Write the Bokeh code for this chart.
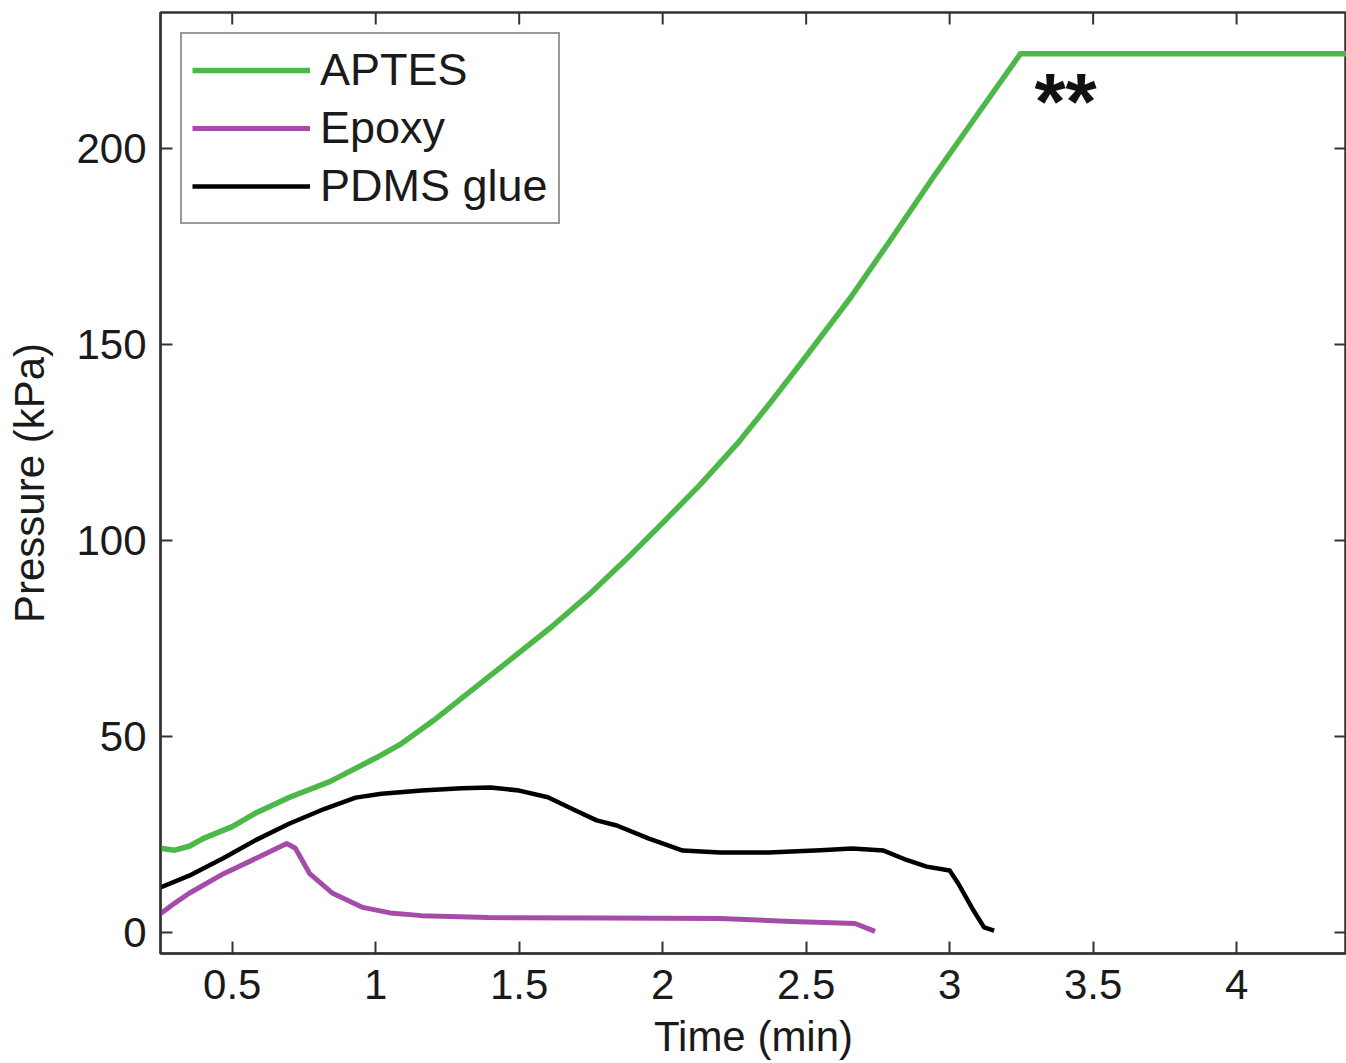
from bokeh.plotting import figure
from bokeh.models import (Range1d, Legend, LegendItem, Label,
                          NumeralTickFormatter, FixedTicker)
from bokeh.embed import file_html
from bokeh.resources import INLINE

# ---- data ----
aptes_t = [0.25, 0.30, 0.35, 0.40, 0.50, 0.58, 0.70, 0.84, 1.00, 1.09, 1.20,
           1.39, 1.61, 1.74, 1.87, 2.00, 2.13, 2.26, 2.38, 2.50, 2.655, 2.80,
           2.944, 3.10, 3.247, 4.40]
aptes_p = [21.5, 21.0, 22.0, 24.0, 27.0, 30.4, 34.5, 38.5, 44.5, 48.2, 54.0,
           65.0, 77.8, 86.0, 95.0, 104.5, 114.2, 124.7, 135.6, 147.0, 162.0, 177.3,
           192.8, 209.0, 224.2, 224.2]

epoxy_t = [0.25, 0.30, 0.35, 0.47, 0.60, 0.69, 0.72, 0.77, 0.85, 0.955, 1.05,
           1.16, 1.39, 1.80, 2.20, 2.45, 2.67, 2.74]
epoxy_p = [4.8, 7.5, 10.0, 15.0, 19.5, 22.7, 21.5, 15.0, 10.0, 6.4, 5.0,
           4.3, 3.8, 3.7, 3.6, 2.8, 2.3, 0.3]

pdms_t = [0.25, 0.35, 0.47, 0.58, 0.70, 0.82, 0.93, 1.02, 1.16, 1.30, 1.40,
          1.50, 1.60, 1.70, 1.77, 1.84, 1.95, 2.07, 2.20, 2.37, 2.55, 2.66,
          2.77, 2.85, 2.92, 3.00, 3.03, 3.08, 3.12, 3.155]
pdms_p = [11.5, 14.5, 19.0, 23.5, 27.8, 31.5, 34.4, 35.4, 36.2, 36.8, 37.0,
          36.2, 34.5, 31.0, 28.6, 27.3, 24.0, 20.9, 20.4, 20.4, 21.0, 21.4,
          20.9, 18.5, 16.8, 15.8, 12.5, 6.0, 1.3, 0.5]

x_ticks = [0.5, 1, 1.5, 2, 2.5, 3, 3.5, 4]
y_ticks = [0, 50, 100, 150, 200]
series_names = ["APTES", "Epoxy", "PDMS glue"]
annotation_text = "**"
annotation_x = 3.404
annotation_y = 212.0

X0, X1 = 0.25, 4.383
Y0, Y1 = -5.36, 234.7

FONT = "Liberation Sans"
TXT = "#1a1a1a"
AX = "#333333"
FS = "42px"

W, H = 1346, 1063
BL, BT, BR, BB = 160, 12, 0, 110

p = figure(width=W, height=H, output_backend="svg", toolbar_location=None,
           x_range=Range1d(X0, X1), y_range=Range1d(Y0, Y1),
           min_border_left=BL, min_border_top=BT, min_border_right=BR,
           min_border_bottom=BB, background_fill_color="white",
           border_fill_color="white")
p.xgrid.visible = False
p.ygrid.visible = False
p.outline_line_color = AX
p.outline_line_width = 2.5

r1 = p.line(aptes_t, aptes_p, line_color="#4cb848", line_width=5.5,
            line_join="round")
r2 = p.line(epoxy_t, epoxy_p, line_color="#a54ca8", line_width=5,
            line_join="round")
r3 = p.line(pdms_t, pdms_p, line_color="#000000", line_width=4.5,
            line_join="round")

# mirrored inward ticks on the top and right edges (MATLAB box style)
TICK_PX = 12
frame_w = W - BL - BR
frame_h = H - BT - BB
dy = TICK_PX * (Y1 - Y0) / frame_h
dx = TICK_PX * (X1 - X0) / frame_w
p.segment(x0=x_ticks, y0=[Y1] * len(x_ticks), x1=x_ticks,
          y1=[Y1 - dy] * len(x_ticks), line_color=AX, line_width=2)
p.segment(x0=[X1] * len(y_ticks), y0=y_ticks, x1=[X1 - dx] * len(y_ticks),
          y1=y_ticks, line_color=AX, line_width=2)


def style_axis(ax, ticks):
    ax.ticker = FixedTicker(ticks=ticks)
    ax.axis_line_color = AX
    ax.axis_line_width = 2
    ax.major_tick_in = TICK_PX
    ax.major_tick_out = 0
    ax.major_tick_line_color = AX
    ax.major_tick_line_width = 2
    ax.minor_tick_line_color = None
    ax.major_label_text_font = FONT
    ax.major_label_text_color = TXT
    ax.major_label_text_font_size = FS
    ax.axis_label_text_font = FONT
    ax.axis_label_text_font_size = FS
    ax.axis_label_text_font_style = "normal"
    ax.axis_label_text_color = TXT


xa = p.xaxis[0]
ya = p.yaxis[0]
style_axis(xa, x_ticks)
style_axis(ya, y_ticks)
xa.formatter = NumeralTickFormatter(format="0.[0]")
xa.major_label_standoff = 16
xa.axis_label = "Time (min)"
xa.axis_label_standoff = 11
ya.axis_label = "Pressure (kPa)"
ya.axis_label_standoff = 20
ya.major_label_standoff = 14

legend = Legend(items=[LegendItem(label=series_names[0], renderers=[r1]),
                       LegendItem(label=series_names[1], renderers=[r2]),
                       LegendItem(label=series_names[2], renderers=[r3])],
                location="top_left", margin=20, padding=10, spacing=6,
                glyph_width=118, glyph_height=44, label_height=44,
                label_standoff=10, label_text_font=FONT,
                label_text_font_size="45px", label_text_color=TXT,
                border_line_color=AX, border_line_width=2,
                background_fill_color="white", background_fill_alpha=1.0)
p.add_layout(legend)

p.add_layout(Label(x=annotation_x, y=annotation_y, text=annotation_text,
                   text_font=FONT, text_font_size="80px",
                   text_font_style="bold", text_color="#111111",
                   text_align="center", text_baseline="alphabetic"))

open("out.html", "w").write(file_html(p, INLINE))
